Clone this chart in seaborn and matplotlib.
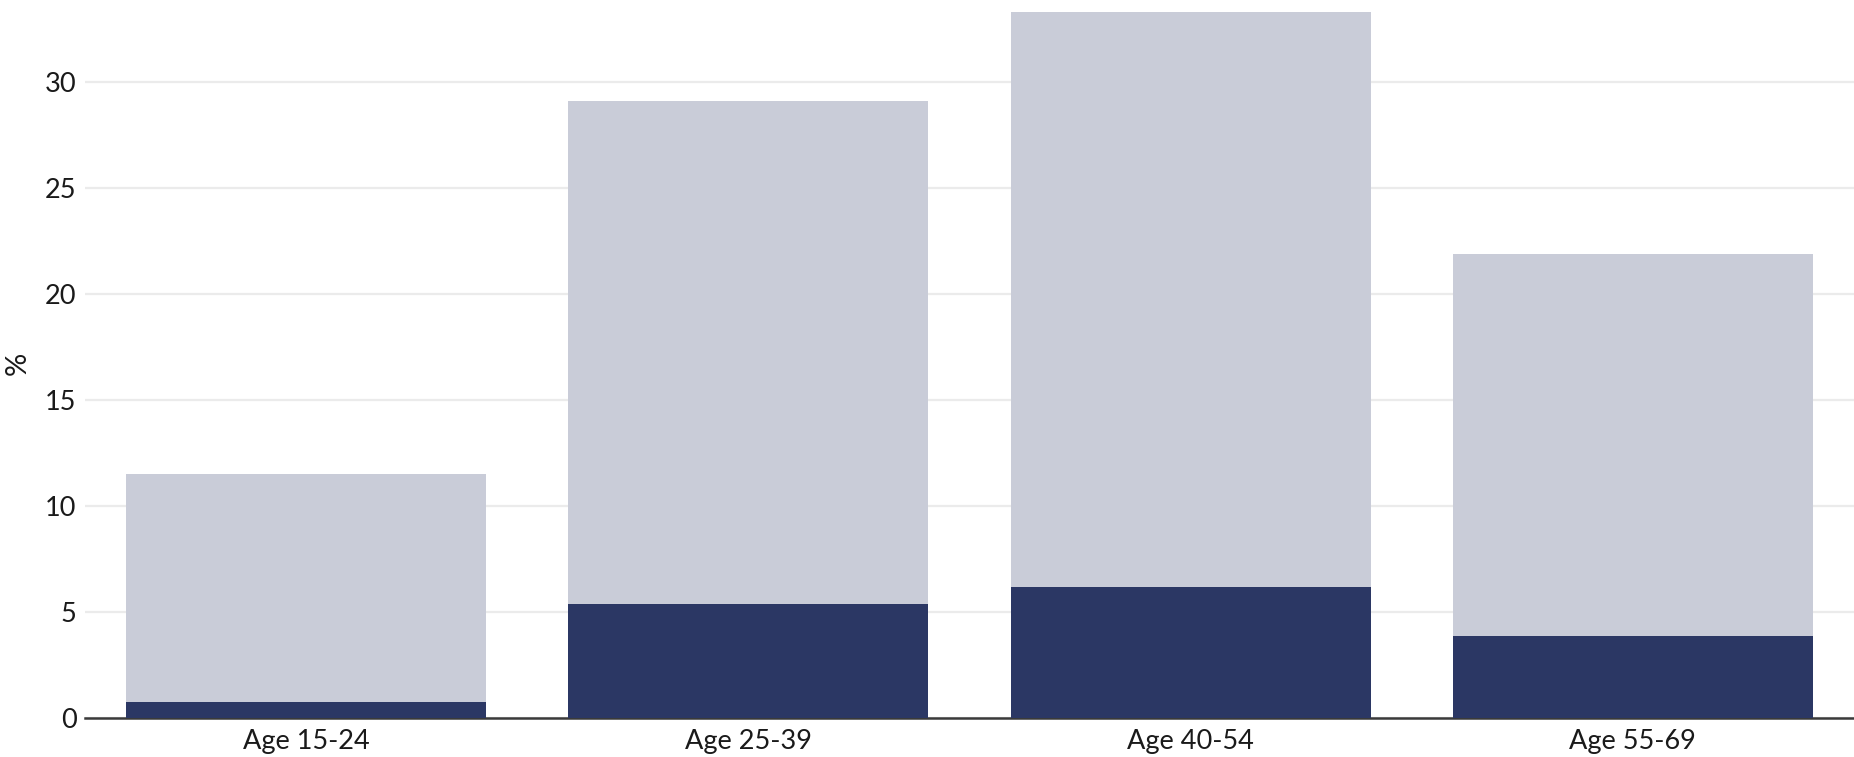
import matplotlib
matplotlib.use("Agg")
import matplotlib.pyplot as plt
import seaborn as sns
import pandas as pd

# Values
age_groups = ["Age 15-24", "Age 25-39", "Age 40-54", "Age 55-69"]
total_share = [11.5, 29.1, 33.3, 21.9]
dark_share = [0.75, 5.4, 6.2, 3.9]
y_ticks = [0, 5, 10, 15, 20, 25, 30]

LIGHT = "#c9ccd8"
DARK = "#2b3764"

df = pd.DataFrame({"group": age_groups, "total": total_share, "dark": dark_share})

sns.set_theme(style="white")
plt.rcParams["font.family"] = ["Lato", "DejaVu Sans"]

fig = plt.figure(figsize=(18.54, 7.57), dpi=100)
ax = fig.add_axes([0.0458, 0.0511, 0.9542, 0.937])

# Light bars = total, dark bars drawn over them from zero
sns.barplot(data=df, x="group", y="total", color=LIGHT, width=0.814,
            saturation=1, linewidth=0, ax=ax, zorder=2)
sns.barplot(data=df, x="group", y="dark", color=DARK, width=0.814,
            saturation=1, linewidth=0, ax=ax, zorder=3)

ax.set_xlim(-0.5, 3.5)
ax.set_ylim(0, 33.45)
ax.set_yticks(y_ticks)
ax.yaxis.grid(True, color="#ebebeb", linewidth=1.6, zorder=0)
ax.set_axisbelow(True)

for side in ["left", "right", "top"]:
    ax.spines[side].set_visible(False)
ax.spines["bottom"].set_color("#3a3a3a")
ax.spines["bottom"].set_linewidth(1.8)
ax.spines["bottom"].set_zorder(1)

ax.tick_params(axis="both", length=0, labelsize=19.5, colors="#1a1a1a")
ax.tick_params(axis="x", pad=8)
ax.tick_params(axis="y", pad=6)
ax.set_xlabel("")
ax.set_ylabel("%", fontsize=21, color="#1a1a1a", labelpad=10)

fig.savefig("out.png", dpi=100, facecolor="white")
